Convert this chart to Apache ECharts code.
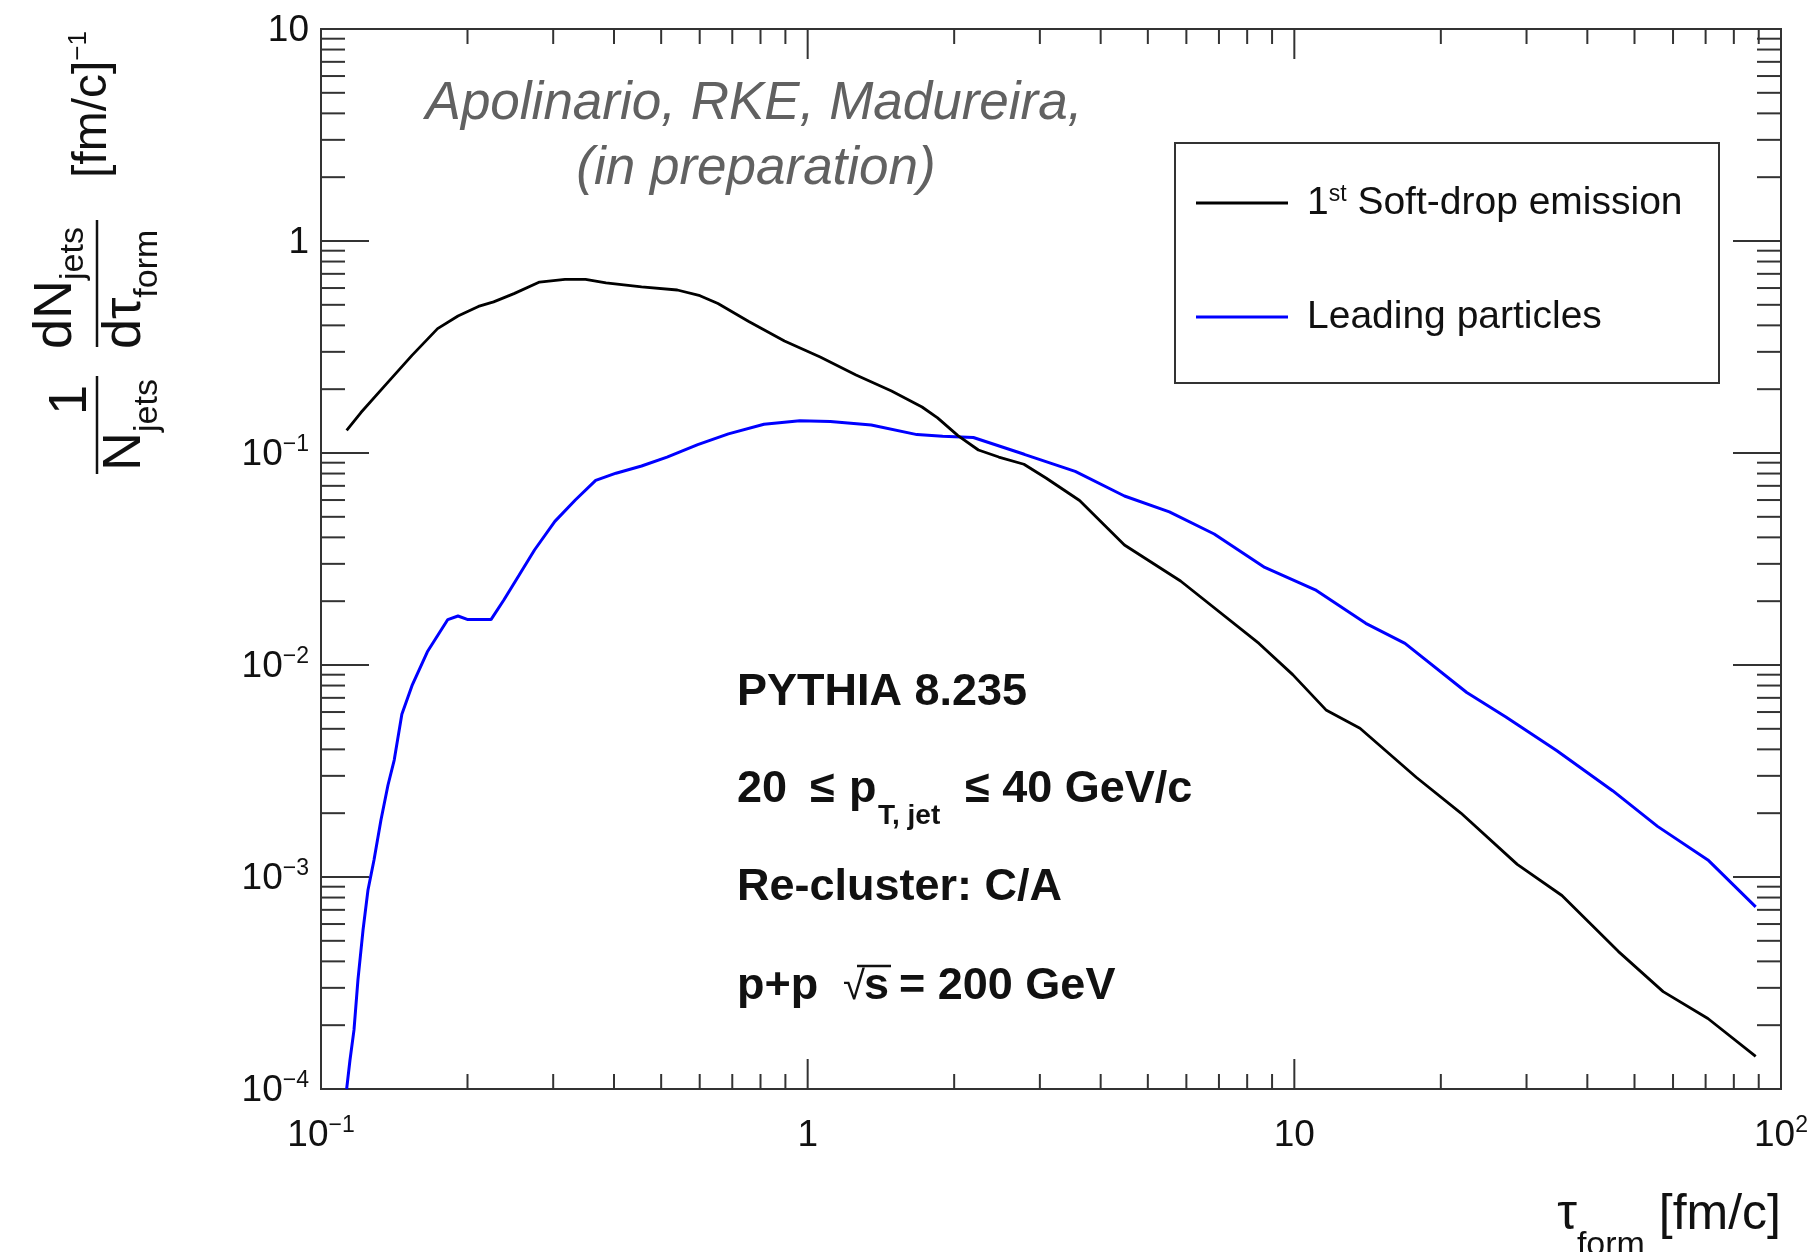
<!DOCTYPE html>
<html>
<head>
<meta charset="utf-8">
<title>Formation time distribution</title>
<script src="https://cdn.jsdelivr.net/npm/echarts@6/dist/echarts.min.js"></script>
<style>
  html, body { margin: 0; padding: 0; background: #fff; }
  #chart { width: 1812px; height: 1252px; }
</style>
</head>
<body>
<div id="chart"></div>
<script>
// Formation time tau_form [fm/c] and normalised yield for the 1st Soft-drop emission
const softDropTau = [0.1129, 0.1208, 0.1363, 0.1538, 0.1736, 0.1912, 0.2106, 0.2263, 0.2492, 0.2812,
  0.3172, 0.3496, 0.3852, 0.4557, 0.5397, 0.6007, 0.6541, 0.7568, 0.8960, 1.061,
  1.257, 1.487, 1.718, 1.849, 2.036, 2.243, 2.470, 2.782, 3.088, 3.620,
  4.476, 5.837, 8.459, 9.924, 11.64, 13.64, 17.80, 21.99, 28.71, 35.47,
  46.30, 57.26, 70.76, 88.72];
const softDropYield = [0.1278, 0.1552, 0.2118, 0.2887, 0.3862, 0.4429, 0.4914, 0.5165, 0.5647, 0.6400,
  0.6597, 0.6597, 0.6345, 0.6081, 0.5873, 0.5521, 0.5068, 0.4175, 0.3375, 0.2834,
  0.2333, 0.1961, 0.1648, 0.1464, 0.1207, 0.1033, 0.0957, 0.0885, 0.0762, 0.0597,
  0.0368, 0.0249, 0.01264, 0.00901, 0.00611, 0.00503, 0.002954, 0.002003, 0.001147, 0.000818,
  0.000446, 0.000288, 0.000215, 0.0001426];

// Same quantity for the leading particles
const leadingTau = [0.1129, 0.1147, 0.1169, 0.1191, 0.1220, 0.1249, 0.1285, 0.1328, 0.1373, 0.1414,
  0.1466, 0.1538, 0.1654, 0.1822, 0.1912, 0.2004, 0.2235, 0.2375, 0.2554, 0.2746,
  0.3024, 0.3331, 0.3668, 0.4038, 0.4557, 0.5141, 0.5945, 0.6873, 0.8133, 0.9634,
  1.113, 1.351, 1.677, 1.894, 2.190, 2.786, 3.546, 4.476, 5.536, 6.844,
  8.694, 11.04, 14.02, 16.88, 22.61, 27.21, 34.58, 45.08, 55.76, 70.76,
  88.72];
const leadingYield = [1.0e-4, 1.37e-4, 1.90e-4, 3.27e-4, 5.62e-4, 8.69e-4, 1.203e-3, 1.857e-3, 2.716e-3, 3.563e-3,
  5.855e-3, 7.99e-3, 0.01154, 0.01638, 0.01703, 0.01638, 0.01638, 0.02026, 0.02657, 0.03487,
  0.04757, 0.06004, 0.07426, 0.08031, 0.08684, 0.0957, 0.1096, 0.1231, 0.1366, 0.1420,
  0.1409, 0.1355, 0.1221, 0.1198, 0.1183, 0.0986, 0.0819, 0.0627, 0.0528, 0.0415,
  0.02884, 0.02263, 0.01573, 0.01264, 0.00742, 0.00569, 0.00395, 0.002554, 0.001733, 0.001204,
  0.000723];

const seriesNames = ['1st Soft-drop emission', 'Leading particles'];

// Axis ranges (decades spanned by each log axis)
const xRange = [0.1, 100];
const yRange = [1e-4, 10];
const xDecades = [-1, 0, 1, 2];
const yDecades = [-4, -3, -2, -1, 0, 1];

const FONT = "'Liberation Sans', Arial, Helvetica, sans-serif";
const INK = '#111';
const FRAME = '#333';
const MIDDLE_SHIFT = 0.35; // canvas 'middle' sits this many ems above the baseline

function pairs(xs, ys) { return xs.map((x, i) => [x, ys[i]]); }

// 1, 2, ..., 9 times each decade: major marks at the powers of ten
function logTickData(decades) {
  const out = [];
  decades.forEach((d, i) => {
    const last = i === decades.length - 1;
    for (let m = 1; m <= (last ? 1 : 9); m++) {
      out.push({ v: m * Math.pow(10, d), major: m === 1 ? 1 : 0 });
    }
  });
  return out;
}

function powerLabel(value) {
  const e = Math.round(Math.log10(value));
  if (e === 0) return '{b|1}';
  if (e === 1) return '{b|10}';
  return '{b|10}{sup|' + (e < 0 ? '\u2212' + (-e) : String(e)) + '}';
}

const tickRich = {
  b: { fontSize: 37, fontFamily: FONT, color: INK, lineHeight: 40, verticalAlign: 'bottom' },
  sup: { fontSize: 23, fontFamily: FONT, color: INK, lineHeight: 16, verticalAlign: 'top' }
};

const xTicks = logTickData(xDecades).map(t => [t.v, 1, t.major]);
const yTicks = logTickData(yDecades).map(t => [1, t.v, t.major]);

function tickLine(x1, y1, x2, y2) {
  return { type: 'line', shape: { x1, y1, x2, y2 }, style: { stroke: FRAME, lineWidth: 2 } };
}

// Text pieces placed on a shared baseline; each piece may carry its own x, size and baseline offset
const measureCtx = document.createElement('canvas').getContext('2d');
function textWidth(str, size, weight, italic) {
  measureCtx.font = (italic ? 'italic ' : '') + (weight || 'normal') + ' ' + size + 'px ' + FONT;
  return measureCtx.measureText(str).width;
}
function textRun(x0, baseline, pieces, common) {
  common = common || {};
  let x = x0;
  return pieces.map(p => {
    if (p.x !== undefined) x = p.x;
    const weight = p.weight || common.weight || 'normal';
    const el = {
      type: 'text', x: x, y: baseline + (p.dy || 0) - MIDDLE_SHIFT * p.size, silent: true,
      style: {
        text: p.t, fontSize: p.size, fontWeight: weight, fontStyle: common.italic ? 'italic' : 'normal',
        fontFamily: FONT, fill: common.fill || INK, align: 'left', verticalAlign: 'middle'
      }
    };
    x += textWidth(p.t, p.size, weight, common.italic);
    return el;
  });
}
function runWidth(pieces, common) {
  common = common || {};
  return pieces.reduce((s, p) => s + textWidth(p.t, p.size, p.weight || common.weight, common.italic), 0);
}

// Axis titles and annotation text
const xTitlePieces = [
  { t: '\u03C4', size: 50 },
  { t: 'form', size: 34, dy: 25 },
  { t: ' [fm/c]', size: 50 }
];
const xTitle = textRun(1781 - runWidth(xTitlePieces), 1233, xTitlePieces);

const Y_MAIN = 54, Y_SUB = 34;
const yTitle = [].concat(
  textRun(-400 - textWidth('1', Y_MAIN) / 2, -7, [{ t: '1', size: Y_MAIN }]),
  textRun(-471, 47, [{ t: 'N', size: Y_MAIN }, { t: 'jets', size: Y_SUB, dy: 16 }]),
  textRun(-349, -22, [{ t: 'dN', size: Y_MAIN }, { t: 'jets', size: Y_SUB, dy: 11 }]),
  textRun(-349, 47, [{ t: 'd\u03C4', size: Y_MAIN }, { t: 'form', size: Y_SUB, dy: 16 }]),
  textRun(-178, 13, [{ t: '[fm/c]', size: 48 }, { t: '\u22121', size: 26, dy: -22 }]),
  [
    { type: 'line', shape: { x1: -474, y1: 0, x2: -376, y2: 0 }, style: { stroke: INK, lineWidth: 2.5 } },
    { type: 'line', shape: { x1: -347, y1: 0, x2: -220, y2: 0 }, style: { stroke: INK, lineWidth: 2.5 } }
  ]
);

const BOLD = { weight: 'bold' };
const infoText = [].concat(
  textRun(737, 708, [{ t: 'PYTHIA 8.235', size: 45 }], BOLD),
  textRun(737, 805, [
    { t: '20', size: 45 },
    { t: '\u2264', size: 45, x: 810 },
    { t: 'p', size: 45, x: 849 },
    { t: 'T, jet', size: 28, dy: 21, x: 878 },
    { t: '\u2264 40 GeV/c', size: 45, x: 965 }
  ], BOLD),
  textRun(737, 903, [{ t: 'Re-cluster: C/A', size: 45 }], BOLD),
  textRun(737, 1002, [
    { t: 'p+p', size: 45 },
    { t: '\u221A', size: 40, weight: 'normal', x: 843 },
    { t: 's', size: 45, x: 864 },
    { t: '= 200 GeV', size: 45, x: 899 }
  ], BOLD)
);

const chart = echarts.init(document.getElementById('chart'), null, { renderer: 'canvas' });

const option = {
  animation: false,
  backgroundColor: '#fff',
  grid: {
    left: 321, right: 31, top: 29, bottom: 163,
    show: true, borderColor: FRAME, borderWidth: 2, backgroundColor: 'transparent',
    containLabel: false, outerBoundsMode: 'none'
  },
  xAxis: {
    type: 'log', logBase: 10, min: xRange[0], max: xRange[1],
    axisLine: { show: false }, axisTick: { show: false }, splitLine: { show: false },
    axisLabel: {
      margin: 25, fontSize: 37, fontFamily: FONT, color: INK,
      formatter: powerLabel, rich: tickRich, showMinLabel: true, showMaxLabel: true
    }
  },
  yAxis: {
    type: 'log', logBase: 10, min: yRange[0], max: yRange[1],
    axisLine: { show: false }, axisTick: { show: false }, splitLine: { show: false },
    axisLabel: {
      margin: 12, fontSize: 37, fontFamily: FONT, color: INK,
      formatter: powerLabel, rich: tickRich, showMinLabel: true, showMaxLabel: true
    }
  },
  legend: {
    data: seriesNames,
    orient: 'vertical',
    left: 1196, top: 183,
    padding: 0,
    itemGap: 75,
    itemWidth: 92, itemHeight: 3,
    icon: 'rect',
    selectedMode: false,
    formatter: name => name === seriesNames[0]
      ? '{m|1}{p|st}{m| Soft-drop emission}'
      : '{m|' + name + '}',
    textStyle: {
      padding: [0, 0, 0, 14],
      rich: {
        m: { fontSize: 39, fontFamily: FONT, color: INK, lineHeight: 40 },
        p: { fontSize: 23, fontFamily: FONT, color: INK, lineHeight: 23, verticalAlign: 'top' }
      }
    }
  },
  tooltip: { show: false },
  series: [
    {
      name: seriesNames[0], type: 'line', data: pairs(softDropTau, softDropYield),
      showSymbol: false, symbol: 'none', color: '#000',
      lineStyle: { color: '#000', width: 2.8 }, z: 5
    },
    {
      name: seriesNames[1], type: 'line', data: pairs(leadingTau, leadingYield),
      showSymbol: false, symbol: 'none', color: '#0000ff',
      lineStyle: { color: '#0000ff', width: 3 }, z: 4
    },
    {
      // tick marks on the bottom and top frame edges
      type: 'custom', silent: true, data: xTicks, z: 3,
      renderItem(params, api) {
        const v = api.value(0);
        const len = api.value(2) ? 30 : 15;
        const b = api.coord([v, yRange[0]]);
        const t = api.coord([v, yRange[1]]);
        return { type: 'group', children: [tickLine(b[0], b[1], b[0], b[1] - len), tickLine(t[0], t[1], t[0], t[1] + len)] };
      }
    },
    {
      // tick marks on the left and right frame edges
      type: 'custom', silent: true, data: yTicks, z: 3,
      renderItem(params, api) {
        const v = api.value(1);
        const len = api.value(2) ? 48 : 24;
        const l = api.coord([xRange[0], v]);
        const r = api.coord([xRange[1], v]);
        return { type: 'group', children: [tickLine(l[0], l[1], l[0] + len, l[1]), tickLine(r[0], r[1], r[0] - len, r[1])] };
      }
    }
  ],
  graphic: [
    // legend frame
    { type: 'rect', shape: { x: 1175, y: 143, width: 544, height: 240 }, style: { fill: '#fff', stroke: FRAME, lineWidth: 2 }, z: 0, silent: true },
    // overline of the square root
    { type: 'line', shape: { x1: 857, y1: 966, x2: 891, y2: 966 }, style: { stroke: INK, lineWidth: 2.5 }, silent: true, z: 10 },
    // author note
    { type: 'text', x: 754, y: 104, silent: true, style: { text: 'Apolinario, RKE, Madureira,', fontSize: 53, fontStyle: 'italic', fontFamily: FONT, fill: '#616161', align: 'center', verticalAlign: 'middle' } },
    { type: 'text', x: 756, y: 169, silent: true, style: { text: '(in preparation)', fontSize: 53, fontStyle: 'italic', fontFamily: FONT, fill: '#616161', align: 'center', verticalAlign: 'middle' } }
  ].concat(infoText, xTitle, [
    // y-axis title, written bottom to top
    { type: 'group', x: 97, y: 0, rotation: Math.PI / 2, silent: true, children: yTitle }
  ])
};

chart.setOption(option);
</script>
</body>
</html>
